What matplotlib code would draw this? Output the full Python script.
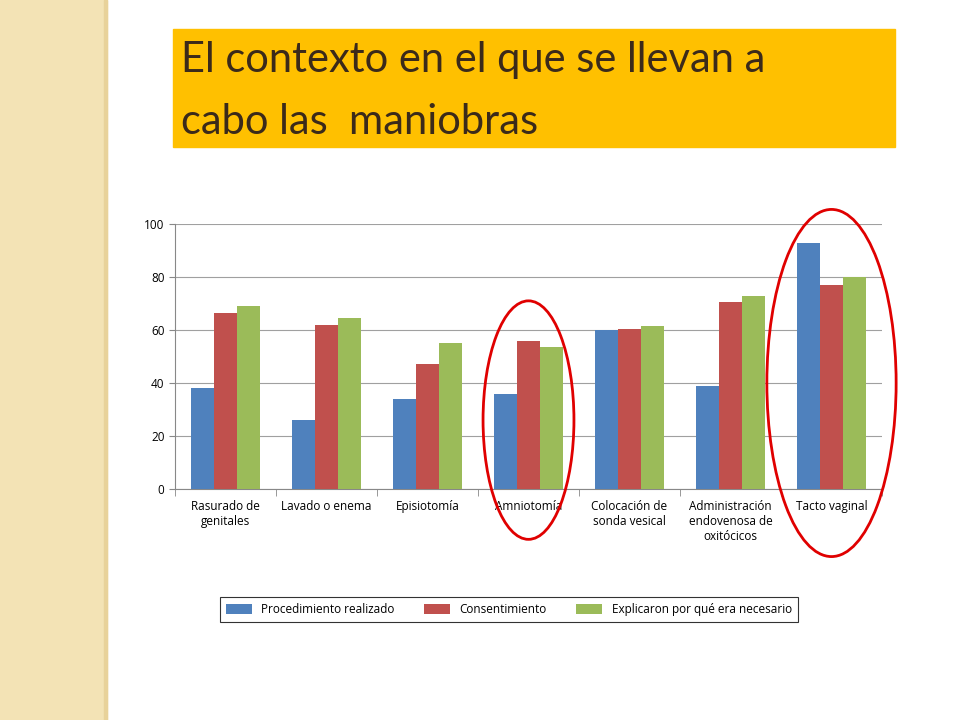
import matplotlib
matplotlib.use("Agg")
import matplotlib.pyplot as plt
import numpy as np
from matplotlib.patches import Rectangle, Ellipse

categories = ["Rasurado de\ngenitales", "Lavado o enema", "Episiotomía", "Amniotomía",
              "Colocación de\nsonda vesical", "Administración\nendovenosa de\noxitócicos", "Tacto vaginal"]
realizado = [38, 26, 34, 36, 60, 39, 93]
consentimiento = [66.5, 62, 47, 56, 60.5, 70.5, 77]
explicaron = [69, 64.5, 55, 53.5, 61.5, 73, 80]
series_names = ["Procedimiento realizado", "Consentimiento", "Explicaron por qué era necesario"]
colors = ["#4F81BD", "#C0504D", "#9BBB59"]
yticks = [0, 20, 40, 60, 80, 100]

W, H = 960, 720
fig = plt.figure(figsize=(9.6, 7.2), dpi=100)
fig.patch.set_facecolor("white")

# left decorative stripe
fig.patches.append(Rectangle((0, 0), 107/W, 1, transform=fig.transFigure, color="#F3E3B5", zorder=0))
fig.patches.append(Rectangle((104/W, 0), 3/W, 1, transform=fig.transFigure, color="#E8D29A", zorder=0))

# title box
fig.patches.append(Rectangle((173/W, 1-147/H), (895-173)/W, (147-29)/H, transform=fig.transFigure,
                             color="#FFC000", zorder=1))
fig.text(181/W, 1-60/H, "El contexto en el que se llevan a", fontsize=30, family="Lato",
         color="#3B2A1A", va="center", ha="left", zorder=2)
fig.text(181/W, 1-122/H, "cabo las  maniobras", fontsize=30, family="Lato",
         color="#3B2A1A", va="center", ha="left", zorder=2)

ax = fig.add_axes([175/W, 1-489/H, (882-175)/W, (489-224)/H])
x = np.arange(len(categories))
bw = 0.225
for i, (vals, c, n) in enumerate(zip([realizado, consentimiento, explicaron], colors, series_names)):
    ax.bar(x + (i-1)*bw, vals, bw, color=c, label=n, zorder=3)
ax.set_xlim(-0.5, len(categories)-0.5)
ax.set_ylim(0, 100)
ax.set_yticks(yticks)
ax.set_yticklabels([str(t) for t in yticks], fontsize=8.5, family="Open Sans")
ax.yaxis.grid(True, color="#A0A0A0", lw=0.8, zorder=0)
ax.set_xticks(np.arange(len(categories)+1)-0.5, minor=True)
ax.set_xticks(x)
ax.set_xticklabels(categories, fontsize=8.5, family="Open Sans", va="top")
ax.tick_params(axis="x", which="major", length=0, pad=8)
ax.tick_params(axis="x", which="minor", length=5, color="#888888")
ax.tick_params(axis="y", length=4, color="#888888")
for s in ["top", "right"]:
    ax.spines[s].set_visible(False)
for s in ["left", "bottom"]:
    ax.spines[s].set_color("#888888")

ax.add_patch(Ellipse((3, 26), 0.9, 90, fill=False, ec="#E00000", lw=2, clip_on=False, zorder=5))
ax.add_patch(Ellipse((6, 40), 1.28, 131, fill=False, ec="#E00000", lw=2, clip_on=False, zorder=5))

leg = fig.legend(loc="center", bbox_to_anchor=((193+825)/2/W, 1-609.5/H), ncol=3,
                 fontsize=8.5, prop={"family": "Open Sans", "size": 8.5}, frameon=True, fancybox=False,
                 edgecolor="black", handlelength=2.2, handleheight=1.0, columnspacing=2.5,
                 borderpad=0.5)
leg.get_frame().set_linewidth(0.8)

fig.savefig("out.png", dpi=100)
